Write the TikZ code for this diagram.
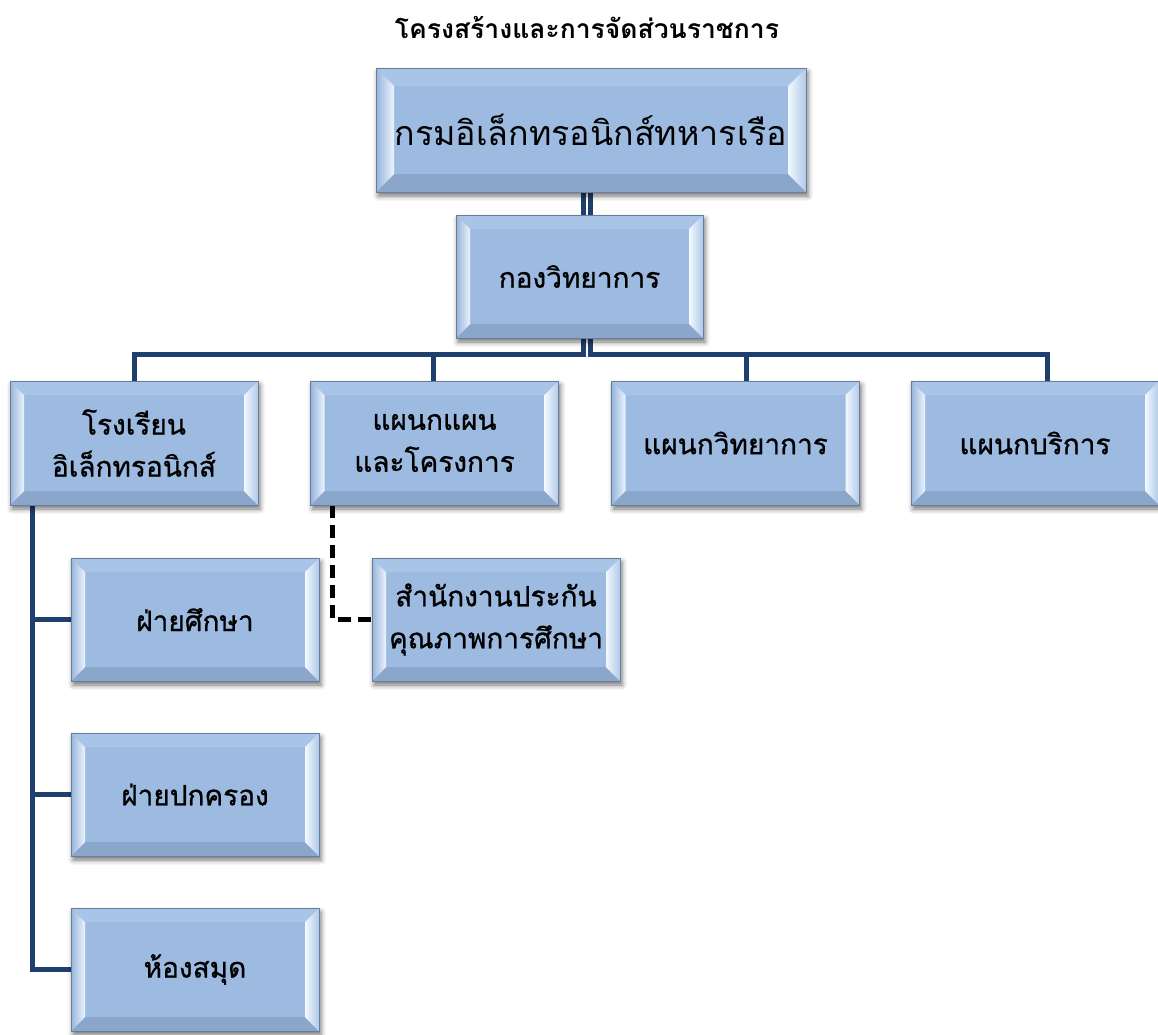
\documentclass[tikz,border=0pt]{standalone}
\usepackage{fontspec}
\newfontfamily\thaifont[Script=Thai]{Loma}
\newfontfamily\thaimed[Script=Thai,FakeBold=0.9]{Loma}
\usetikzlibrary{calc,shadows.blur}
\definecolor{boxface}{RGB}{157,187,225}
\definecolor{boxedge}{RGB}{105,125,155}
\definecolor{bvtopc}{RGB}{168,196,231}
\definecolor{bvbotc}{RGB}{138,166,203}
\definecolor{bvlout}{RGB}{150,180,218}
\definecolor{bvlin}{RGB}{236,244,253}
\definecolor{bvrin}{RGB}{242,248,255}
\definecolor{bvrout}{RGB}{176,201,233}
\definecolor{connc}{RGB}{31,64,110}
\pgfdeclarelayer{bg}
\pgfsetlayers{bg,main}
\newcommand\mybevel[2][14pt]{%
  \fill[bvtopc] (#2.north west) -- (#2.north east) -- ([shift={(-#1,-#1)}]#2.north east) -- ([shift={(#1,-#1)}]#2.north west) -- cycle;
  \fill[bvbotc] (#2.south west) -- (#2.south east) -- ([shift={(-#1,#1)}]#2.south east) -- ([shift={(#1,#1)}]#2.south west) -- cycle;
  \shade[left color=bvlout, right color=bvlin] (#2.north west) -- ([shift={(#1,-#1)}]#2.north west) -- ([shift={(#1,#1)}]#2.south west) -- (#2.south west) -- cycle;
  \shade[left color=bvrin, right color=bvrout] (#2.north east) -- ([shift={(-#1,-#1)}]#2.north east) -- ([shift={(-#1,#1)}]#2.south east) -- (#2.south east) -- cycle;
}
\tikzset{
  bevd/.store in=\bevd, bevd=14pt,
  bev/.style={rectangle, inner sep=0pt, minimum width=248pt, minimum height=124pt,
    fill=boxface, draw=boxedge, line width=0.8pt, align=center, text=black,
    font=\thaimed\fontsize{28}{42}\selectfont,
    path picture={\mybevel[\bevd]{path picture bounding box}},
    blur shadow={shadow xshift=2pt, shadow yshift=-4pt, shadow blur radius=5pt, shadow opacity=55}},
  conn/.style={draw=connc, line width=5pt},
  dsh/.style={draw=black, line width=5pt, dash pattern=on 13pt off 7pt},
  ttl/.style={font=\thaifont\bfseries\fontsize{26.5}{30}\selectfont, inner sep=0pt}
}
\begin{document}
\begin{tikzpicture}[x=1pt,y=-1pt]
\useasboundingbox (0,0) rectangle (1158,1034);
\node[ttl] (title) at (587,27) {โครงสร้างและการจัดส่วนราชการ};
\node[bev, bevd=18pt, minimum width=430pt, font=\thaifont\fontsize{34}{42}\selectfont] (top) at (591,130) {กรมอิเล็กทรอนิกส์ทหารเรือ};
\node[bev, minimum width=247pt, minimum height=123pt] (mid) at (579.5,276.5) {กองวิทยาการ};
\node[bev] (r1) at (134,443) {โรงเรียน\\อิเล็กทรอนิกส์};
\node[bev] (r2) at (434.5,443) {แผนกแผน\\และโครงการ};
\node[bev] (r3) at (735.5,443) {แผนกวิทยาการ};
\node[bev] (r4) at (1035,443) {แผนกบริการ};
\node[bev, minimum height=123pt] (s1) at (195,619.5) {ฝ่ายศึกษา};
\node[bev, minimum height=123pt] (s2) at (195,794.5) {ฝ่ายปกครอง};
\node[bev, minimum height=123pt] (s3) at (195,969.5) {ห้องสมุด};
\node[bev, minimum height=123pt] (q) at (496,619.5) {สำนักงานประกัน\\คุณภาพการศึกษา};
\begin{pgfonlayer}{bg}
  \coordinate (busL) at ([xshift=-8pt]top.south |- 0,354);
  \coordinate (busR) at ([xshift=-1pt]top.south |- 0,354);
  \draw[conn] ([xshift=-8pt]top.south) -- (busL) -| (r1.north);
  \draw[conn] (busL) -| ([xshift=-1.5pt]r2.north);
  \draw[conn] ([xshift=-1pt]top.south) -- (busR) -| ([xshift=10.5pt]r3.north);
  \draw[conn] (busR) -| ([xshift=12pt]r4.north);
  \coordinate (lv) at ([xshift=23pt]r1.south west);
  \draw[conn] (lv) |- (s1.west);
  \draw[conn] (lv) |- (s2.west);
  \draw[conn] (lv) |- (s3.west);
  \draw[dsh] ([xshift=22pt]r2.south west) |- (q.west);
\end{pgfonlayer}
\end{tikzpicture}
\end{document}
